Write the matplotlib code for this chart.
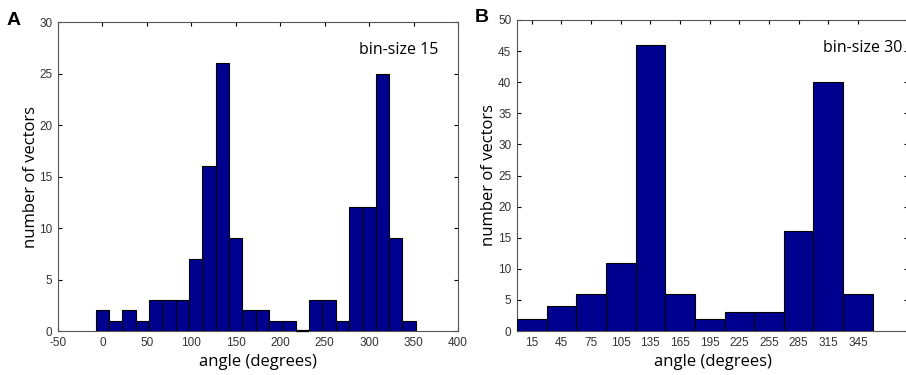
import matplotlib.pyplot as plt
import numpy as np

plt.rcParams['axes.unicode_minus'] = False

# panel A: bin-size 15
centers_a = np.arange(0, 360, 15)
counts_a = [2, 1, 2, 1, 3, 3, 3, 7, 16, 26, 9, 2, 2, 1, 1, 0, 3, 3, 1, 12, 12, 25, 9, 1]

# panel B: bin-size 30
centers_b = np.arange(15, 360, 30)
counts_b = [2, 4, 6, 11, 46, 6, 2, 3, 3, 16, 40, 6]

bar_color = '#00008F'
label_font = 'Open Sans'
tick_font = 'Liberation Sans'

fig = plt.figure(figsize=(9.06, 3.75), dpi=100)
ax1 = fig.add_axes([0.064, 0.1173, 0.4415, 0.824])
ax2 = fig.add_axes([0.5706, 0.1173, 0.432, 0.8294])

for ax in (ax1, ax2):
    ax.tick_params(direction='in', top=True, right=True, length=3, width=0.8,
                   labelsize=8.5, labelcolor='#333333')
    ax.tick_params(axis='x', pad=4)
    ax.tick_params(axis='y', pad=4)
    for s in ax.spines.values():
        s.set_linewidth(0.8)
        s.set_color('#555555')

# A
ax1.bar(centers_a, counts_a, width=15, color=bar_color, edgecolor='black',
        linewidth=0.8, zorder=3)
# empty bins still show as a flat black edge
empty = centers_a[np.array(counts_a) == 0]
ax1.hlines(np.zeros(len(empty)), empty - 7.5, empty + 7.5, colors='black',
           linewidth=1.6, zorder=4, clip_on=False)
ax1.set_xlim(-50, 400)
ax1.set_ylim(0, 30)
ax1.set_xticks(np.arange(-50, 401, 50))
ax1.set_yticks(np.arange(0, 31, 5))
ax1.set_xlabel('angle (degrees)', family=label_font, fontsize=12, labelpad=4)
ax1.set_ylabel('number of vectors', family=label_font, fontsize=12, labelpad=0)
ax1.text(0.95, 0.91, 'bin-size 15', transform=ax1.transAxes, ha='right', va='center',
         family=label_font, fontsize=11.5)
fig.text(0.007, 0.945, 'A', family='Liberation Sans', fontweight='bold', fontsize=14, va='center')

# B
ax2.bar(centers_b, counts_b, width=30, color=bar_color, edgecolor='black',
        linewidth=0.8, zorder=3)
ax2.set_xlim(0, 396)
ax2.set_ylim(0, 50)
ax2.set_xticks(centers_b)
ax2.set_yticks(np.arange(0, 51, 5))
ax2.set_xlabel('angle (degrees)', family=label_font, fontsize=12, labelpad=4)
ax2.set_ylabel('number of vectors', family=label_font, fontsize=12, labelpad=1)
ax2.text(0.985, 0.91, 'bin-size 30', transform=ax2.transAxes, ha='right', va='center',
         family=label_font, fontsize=11.5)
fig.text(0.524, 0.952, 'B', family='Liberation Sans', fontweight='bold', fontsize=14, va='center')

for ax in (ax1, ax2):
    for lab in ax.get_xticklabels() + ax.get_yticklabels():
        lab.set_family(tick_font)

fig.savefig('out.png', dpi=100)
